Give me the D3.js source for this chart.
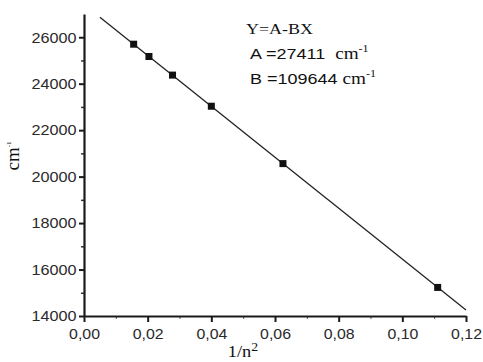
<!DOCTYPE html>
<html>
<head>
<meta charset="utf-8">
<script src="https://cdn.jsdelivr.net/npm/d3@7"></script>
<style>
  body { margin: 0; background: #fff; }
  svg { display: block; }
  text { white-space: pre; }
</style>
</head>
<body>
<svg id="viz" width="483" height="362"></svg>
<script>
// measured points, x = 1/n^2, y = wavenumber (cm-1)
const inv_n2 = [0.0156, 0.0204, 0.0278, 0.0400, 0.0625, 0.1111]
const wavenum = [25700, 25170, 24370, 23030, 20560, 15230]

// fitted line end points
const fit_x = [0.005, 0.12]
const fit_y = [26863, 14254]

const x_ticks = [0, 0.02, 0.04, 0.06, 0.08, 0.10, 0.12]
const x_minor = [0.01, 0.03, 0.05, 0.07, 0.09, 0.11]
const y_ticks = [14000, 16000, 18000, 20000, 22000, 24000, 26000]
const y_minor = [15000, 17000, 19000, 21000, 23000, 25000]

const eq_lines = ["Y=A-BX", "A =27411  ", "B =109644 "]

let svg = d3.select("#viz");

let x = d3.scaleLinear().domain([0, 0.12]).range([84, 466]);
let y = d3.scaleLinear().domain([14000, 27000]).range([316, 14]);

const comma = d3.formatLocale({ decimal: ",", thousands: ".", grouping: [3], currency: ["", ""] });
let fmt = comma.format(".2f");

// minor ticks first so the main axis draws over them
svg.append("g")
    .attr("transform", "translate(0,316)")
    .call(d3.axisBottom(x).tickValues(x_minor).tickSize(3).tickFormat(""))
    .call(g => g.select(".domain").remove())
    .selectAll("line").attr("stroke", "#555").attr("stroke-width", 1);

svg.append("g")
    .attr("transform", "translate(84,0)")
    .call(d3.axisLeft(y).tickValues(y_minor).tickSize(3).tickFormat(""))
    .call(g => g.select(".domain").remove())
    .selectAll("line").attr("stroke", "#333").attr("stroke-width", 1.5);

let xAxis = svg.append("g")
    .attr("transform", "translate(0,316)")
    .call(d3.axisBottom(x).tickValues(x_ticks).tickSize(6).tickSizeOuter(0).tickFormat(fmt).tickPadding(6));

let yAxis = svg.append("g")
    .attr("transform", "translate(84,0)")
    .call(d3.axisLeft(y).tickValues(y_ticks).tickSize(5).tickSizeOuter(0).tickFormat(d3.format("d")).tickPadding(2));

[xAxis, yAxis].forEach(function (a) {
    a.select(".domain").attr("stroke", "#1a1a1a").attr("stroke-width", 2.2);
    a.selectAll(".tick line").attr("stroke", "#1a1a1a").attr("stroke-width", 2);
    a.selectAll(".tick text")
        .attr("fill", "#2a2a2a")
        .style("font-family", "'Liberation Sans', Arial, sans-serif")
        .style("font-size", "15px");
});
xAxis.selectAll(".tick text").attr("transform", "scale(1.06,1)");
yAxis.selectAll(".tick text").attr("transform", "scale(1.08,1)");

// fitted line
svg.append("line")
    .attr("x1", x(fit_x[0])).attr("y1", y(fit_y[0]))
    .attr("x2", x(fit_x[1])).attr("y2", y(fit_y[1]))
    .attr("stroke", "#222")
    .attr("stroke-width", 1.3);

// square markers
svg.append("g").selectAll("rect")
    .data(d3.zip(inv_n2, wavenum))
    .join("rect")
    .attr("x", d => x(d[0]) - 3.5)
    .attr("y", d => y(d[1]) - 3.5)
    .attr("width", 7)
    .attr("height", 7)
    .attr("fill", "#111");

// axis titles
let ylab = svg.append("text")
    .attr("transform", "translate(19,156) rotate(-90)")
    .attr("text-anchor", "middle")
    .style("font-family", "'Liberation Serif', 'Times New Roman', serif")
    .style("font-size", "19px")
    .attr("fill", "#111");
ylab.append("tspan").text("cm");
ylab.append("tspan").attr("dy", -8).style("font-size", "7px").text("-1");

let xlab = svg.append("text")
    .attr("transform", "translate(243,357) scale(1.15,1)")
    .attr("text-anchor", "middle")
    .style("font-family", "'Liberation Serif', 'Times New Roman', serif")
    .style("font-size", "16px")
    .attr("fill", "#111");
xlab.append("tspan").text("1/n");
xlab.append("tspan").attr("dy", -6).style("font-size", "12px").text("2");

// fit equation
svg.append("text")
    .attr("transform", "translate(246,34) scale(1.2,1)")
    .style("font-family", "'Liberation Serif', 'Times New Roman', serif")
    .style("font-size", "15px")
    .attr("fill", "#111")
    .text(eq_lines[0]);

[[eq_lines[1], 250, 59], [eq_lines[2], 250, 84]].forEach(function (l) {
    let t = svg.append("text")
        .attr("transform", "translate(" + l[1] + "," + l[2] + ") scale(1.2,1)")
        .attr("fill", "#111");
    t.append("tspan")
        .style("font-family", "'Liberation Sans', Arial, sans-serif")
        .style("font-size", "15px")
        .text(l[0]);
    t.append("tspan")
        .style("font-family", "'Liberation Serif', 'Times New Roman', serif")
        .style("font-size", "16px")
        .text("cm");
    t.append("tspan")
        .attr("dy", -7)
        .style("font-family", "'Liberation Serif', 'Times New Roman', serif")
        .style("font-size", "10px")
        .text("-1");
});
</script>
</body>
</html>
